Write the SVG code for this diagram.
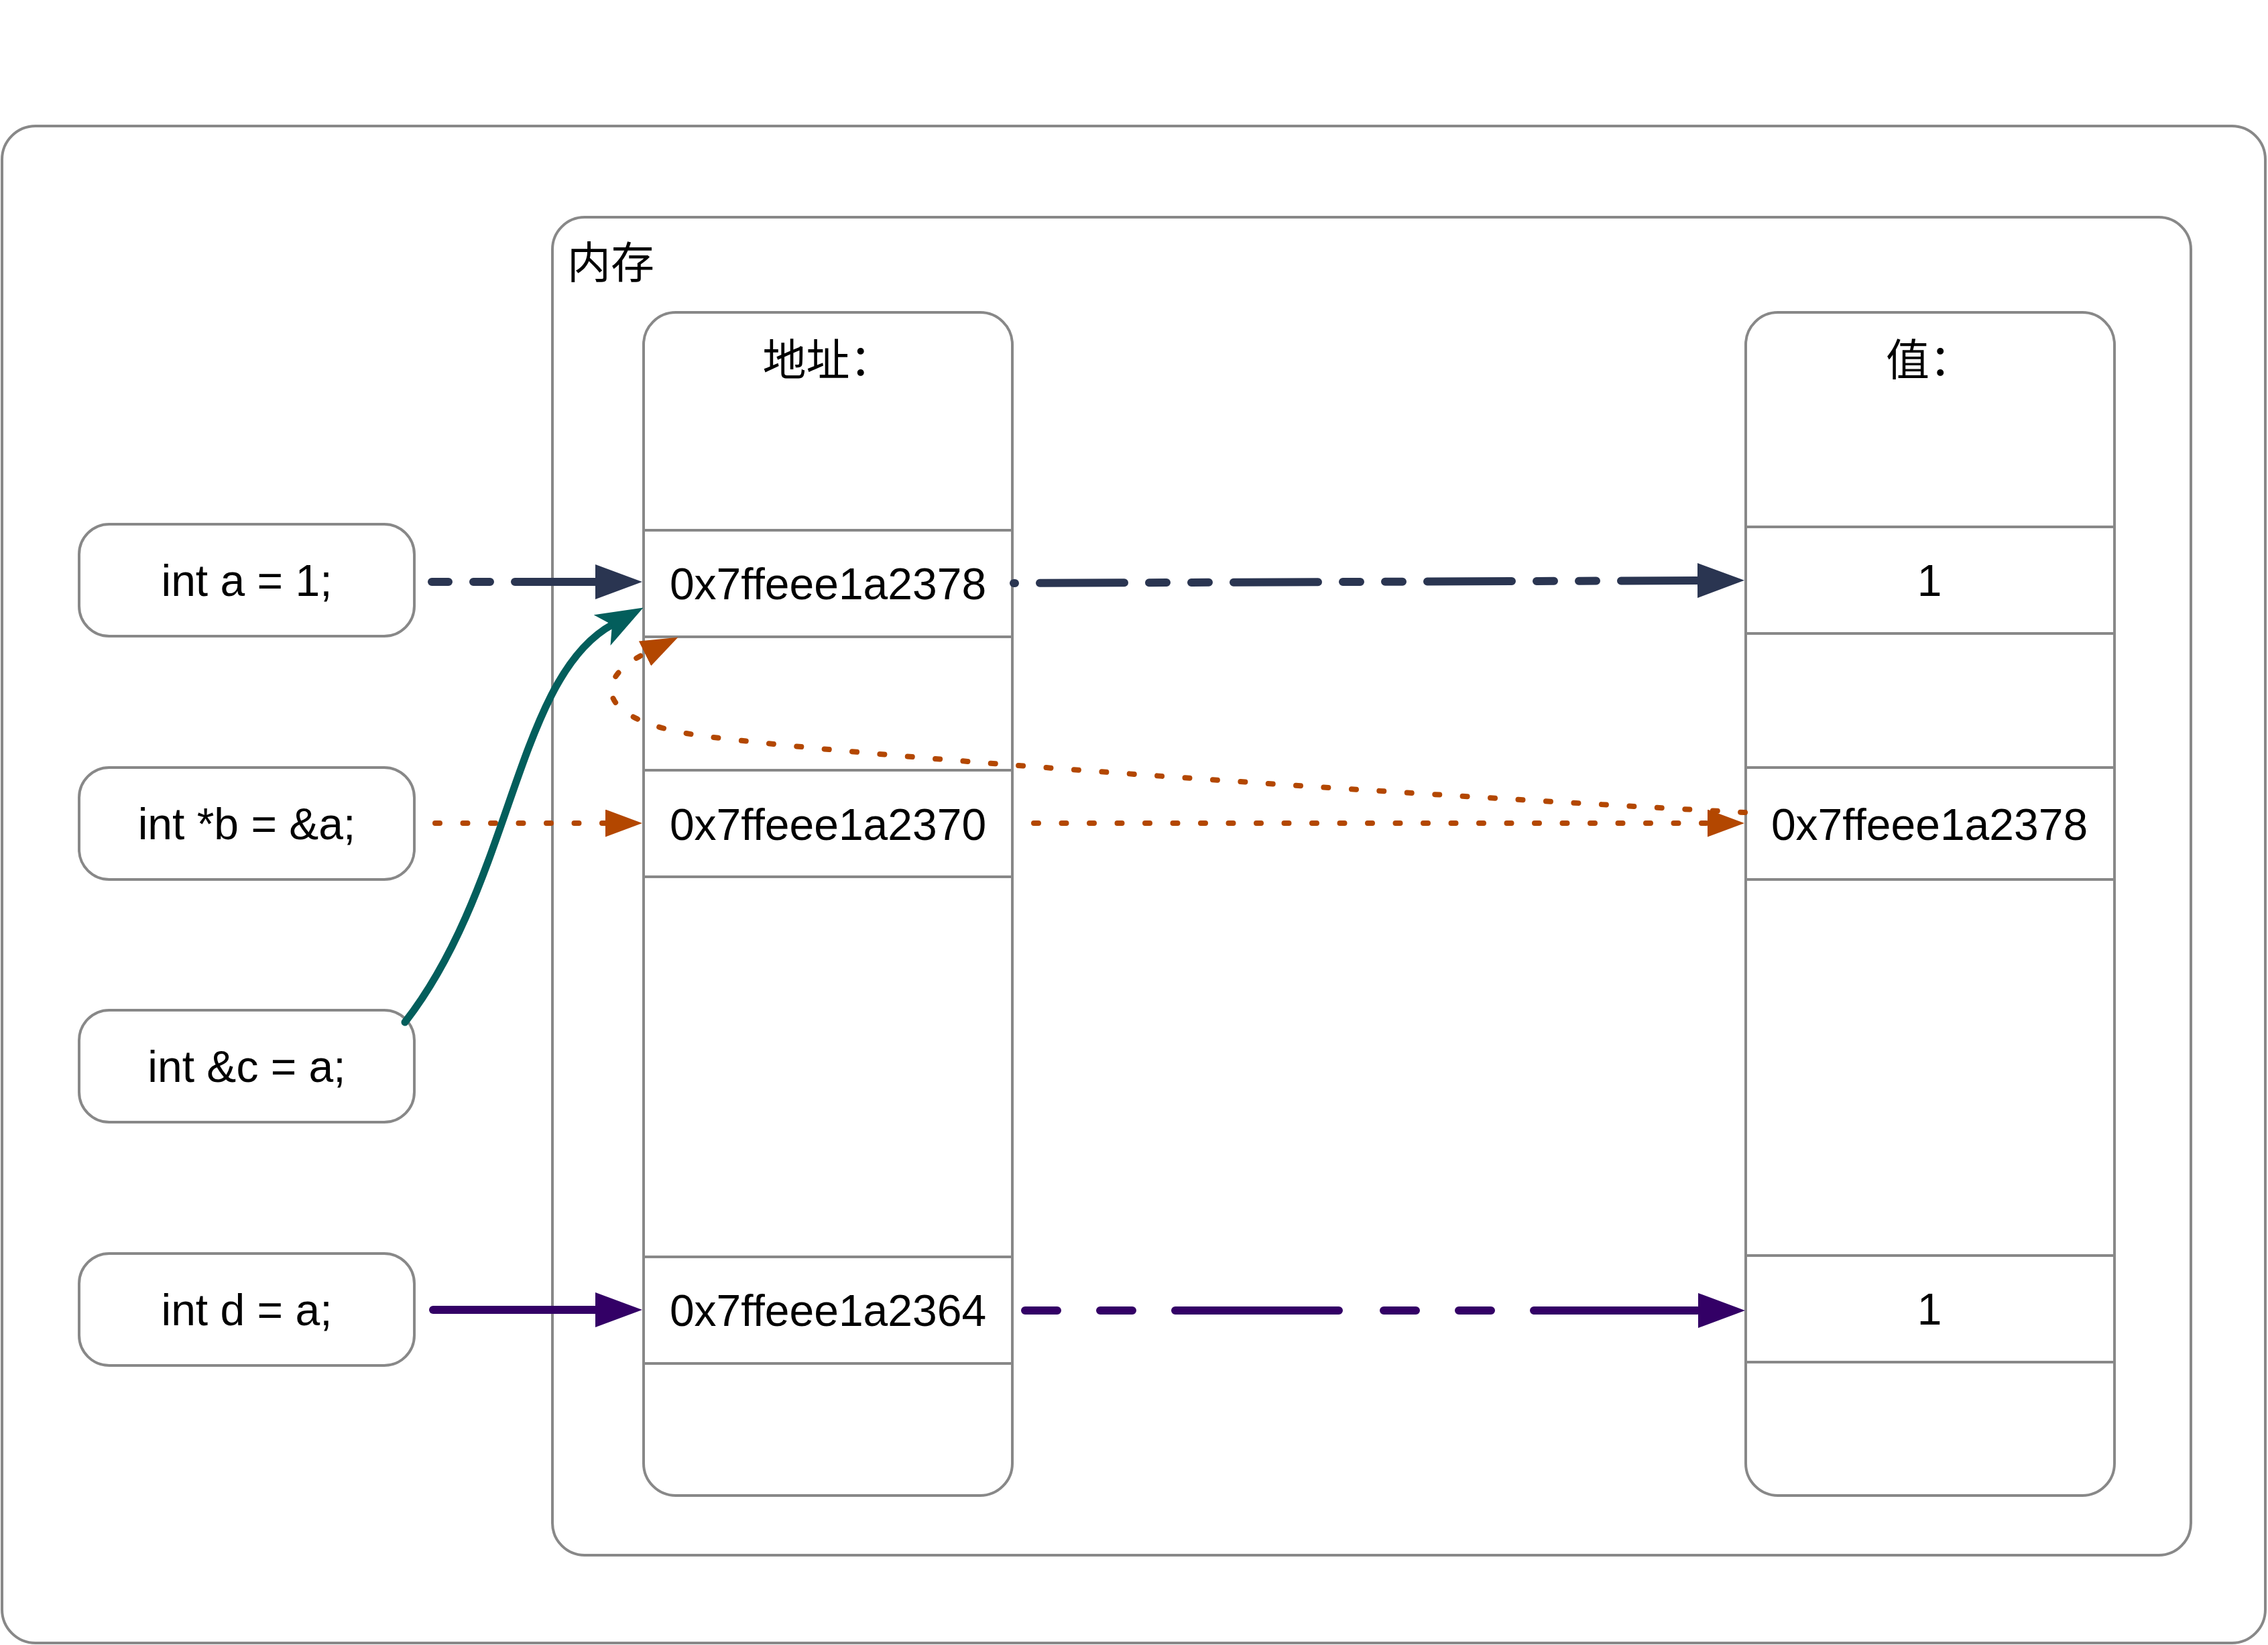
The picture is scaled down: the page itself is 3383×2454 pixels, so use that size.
<svg xmlns="http://www.w3.org/2000/svg" width="3383" height="2454" viewBox="0 0 3383 2454">
<style>
.box{fill:#fff;stroke:#888;stroke-width:4}
.t{font-family:"Liberation Sans",Arial,"Noto Sans CJK SC",sans-serif;font-size:66px;fill:#000}
.c{text-anchor:middle}
.cjk{font-family:"Noto Sans CJK SC","Liberation Sans",sans-serif;font-size:65px;fill:#000}
.ln{fill:none;stroke-linecap:round}
</style>
<defs>
<marker id="aNavy" markerUnits="userSpaceOnUse" viewBox="0 0 70 52" markerWidth="70" markerHeight="52" refX="0" refY="26" orient="auto"><path d="M0,0 L70,26 L0,52 Z" fill="#2a3551"/></marker>
<marker id="aPurple" markerUnits="userSpaceOnUse" viewBox="0 0 70 52" markerWidth="70" markerHeight="52" refX="0" refY="26" orient="auto"><path d="M0,0 L70,26 L0,52 Z" fill="#330066"/></marker>
<marker id="aOrange" markerUnits="userSpaceOnUse" viewBox="0 0 55 41" markerWidth="55" markerHeight="41" refX="0" refY="20.5" orient="auto"><path d="M0,0 L55,20.5 L0,41 Z" fill="#b34700"/></marker>
<marker id="aTeal" markerUnits="userSpaceOnUse" viewBox="0 0 70 52" markerWidth="70" markerHeight="52" refX="17" refY="26" orient="auto"><path d="M0,0 L70,26 L0,52 L17,26 Z" fill="#035e5c"/></marker>
</defs>
<rect width="3383" height="2454" fill="#fff"/>
<g id="outer"><rect class="box" x="3" y="188" width="3376" height="2263" rx="50"/></g>
<g id="memory">
<rect class="box" x="824" y="324" width="2444" height="1996" rx="48"/>
<text class="cjk" x="846" y="415">内存</text>
</g>
<g id="addr-col">
<rect class="box" x="960" y="466" width="550" height="1765" rx="48"/>
<text class="cjk c" x="1235" y="560">地址：</text>
</g>
<g id="addr-1"><rect class="box" x="960" y="791" width="550" height="159"/><text class="t c" x="1235" y="894">0x7ffeee1a2378</text></g>
<g id="addr-2"><rect class="box" x="960" y="1149" width="550" height="159"/><text class="t c" x="1235" y="1253">0x7ffeee1a2370</text></g>
<g id="addr-3"><rect class="box" x="960" y="1875" width="550" height="159"/><text class="t c" x="1235" y="1978">0x7ffeee1a2364</text></g>
<g id="val-col">
<rect class="box" x="2604" y="466" width="550" height="1765" rx="48"/>
<text class="cjk c" x="2878" y="560">值：</text>
</g>
<g id="val-1"><rect class="box" x="2604" y="786" width="550" height="159"/><text class="t c" x="2878" y="889">1</text></g>
<g id="val-2"><rect class="box" x="2604" y="1145" width="550" height="167"/><text class="t c" x="2878" y="1253">0x7ffeee1a2378</text></g>
<g id="val-3"><rect class="box" x="2604" y="1873" width="550" height="159"/><text class="t c" x="2878" y="1976">1</text></g>
<g id="node-a"><rect class="box" x="118" y="782" width="500" height="167" rx="45"/><text class="t c" x="368" y="889">int a = 1;</text></g>
<g id="node-b"><rect class="box" x="118" y="1145" width="500" height="167" rx="45"/><text class="t c" x="368" y="1252">int *b = &amp;a;</text></g>
<g id="node-c"><rect class="box" x="118" y="1507" width="500" height="167" rx="45"/><text class="t c" x="368" y="1614">int &amp;c = a;</text></g>
<g id="node-d"><rect class="box" x="118" y="1870" width="500" height="167" rx="45"/><text class="t c" x="368" y="1977">int d = a;</text></g>
<g id="connectors">
<path class="ln" d="M644,868 L888,868" stroke="#2a3551" stroke-width="12" stroke-dasharray="25 37 25 37 1000" marker-end="url(#aNavy)"/>
<path class="ln" d="M1512,870 L2532,866" stroke="#2a3551" stroke-width="12" stroke-dasharray="126 37 26 37 26 37" stroke-dashoffset="250" marker-end="url(#aNavy)"/>
<path class="ln" d="M649,1228 L903,1228" stroke="#b34700" stroke-width="8" stroke-dasharray="7 34.5" marker-end="url(#aOrange)"/>
<path class="ln" d="M1542,1228 L2547,1228" stroke="#b34700" stroke-width="8" stroke-dasharray="7 34.5" marker-end="url(#aOrange)"/>
<path class="ln" d="M2603,1212 C2000,1180 1300,1130 1057,1099 C888,1078 881,1015 962,975" stroke="#b34700" stroke-width="8" stroke-dasharray="7 34.5" marker-end="url(#aOrange)"/>
<path class="ln" d="M604,1525 C764,1320 770,1010 913,932" stroke="#035e5c" stroke-width="11" marker-end="url(#aTeal)"/>
<path class="ln" d="M646,1954 L888,1954" stroke="#330066" stroke-width="12" marker-end="url(#aPurple)"/>
<path class="ln" d="M1529,1955 L2533,1955" stroke="#330066" stroke-width="12" stroke-dasharray="48 64 48 64 244 67" marker-end="url(#aPurple)"/>
</g>
</svg>
